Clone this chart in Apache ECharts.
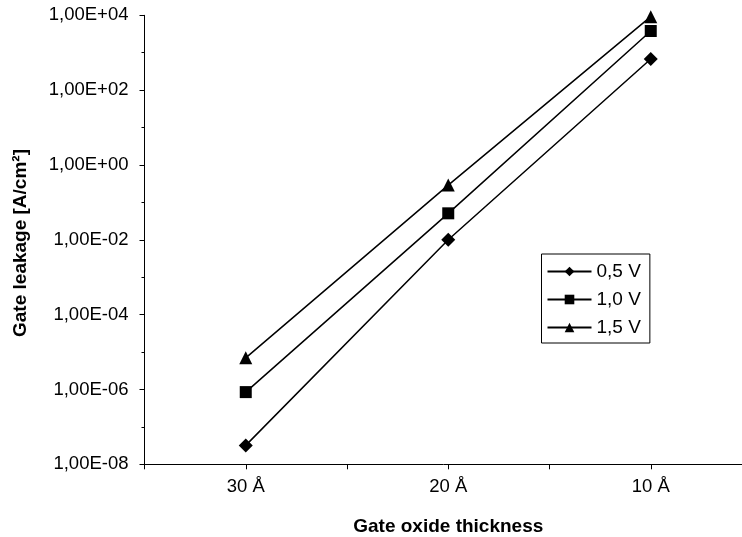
<!DOCTYPE html>
<html>
<head>
<meta charset="utf-8">
<script src="https://cdn.jsdelivr.net/npm/echarts@6/dist/echarts.min.js"></script>
<style>html,body{margin:0;padding:0;background:#fff}#c{width:742px;height:537px}</style>
</head>
<body>
<div id="c"></div>
<script>
var categories = ['30 Å', '20 Å', '10 Å'];
var seriesNames = ['0,5 V', '1,0 V', '1,5 V'];
var v05 = [3.2e-8, 1.0e-2, 680];
var v10 = [8.5e-7, 5.1e-2, 3800];
var v15 = [7.0e-6, 0.29, 9200];
var yTickLabels = {'-8':'1,00E-08','-6':'1,00E-06','-4':'1,00E-04','-2':'1,00E-02','0':'1,00E+00','2':'1,00E+02','4':'1,00E+04'};
var xTitle = 'Gate oxide thickness';
var yTitle = 'Gate leakage [A/cm²]';

var font = 'Liberation Sans, Arial, sans-serif';
var chart = echarts.init(document.getElementById('c'));

function build(useLog) {
  function tr(arr) { return useLog ? arr : arr.map(function (v) { return Math.log10(v); }); }
  function mk(name, data, sym) {
    return {
      name: name, type: 'line', data: tr(data), xAxisIndex: 0, yAxisIndex: 0,
      symbol: sym, symbolSize: sym === 'triangle' ? 13 : (sym === 'diamond' ? 14 : 12),
      lineStyle: {color: '#000', width: 1.5},
      itemStyle: {color: '#000'},
      animation: false
    };
  }
  function lbl(v) { var e = useLog ? Math.round(Math.log10(v)) : Math.round(v); return yTickLabels[String(e)] || ''; }
  var y0, y1;
  if (useLog) {
    y0 = {type: 'log', logBase: 10, min: 1e-8, max: 1e4, interval: 2};
    y1 = {type: 'log', logBase: 10, min: 1e-8, max: 1e4, interval: 1};
  } else {
    y0 = {type: 'value', min: -8, max: 4, interval: 2};
    y1 = {type: 'value', min: -8, max: 4, interval: 1};
  }
  Object.assign(y0, {
    axisLine: {show: true, lineStyle: {color: '#000', width: 1}},
    axisTick: {show: true, length: 5, lineStyle: {color: '#000'}},
    axisLabel: {color: '#000', fontSize: 18.5, fontFamily: font, margin: 16, formatter: lbl},
    splitLine: {show: false}
  });
  Object.assign(y1, {
    position: 'left',
    axisLine: {show: false},
    axisTick: {show: true, length: 3, lineStyle: {color: '#000'}},
    axisLabel: {show: false},
    splitLine: {show: false}
  });
  return {
    animation: false,
    grid: {left: 144.5, right: -10, top: 15.3, bottom: 72.7, outerBoundsMode: 'none', containLabel: false},
    xAxis: [{
      type: 'category', data: categories, position: 'bottom', boundaryGap: true,
      axisLine: {lineStyle: {color: '#000', width: 1}},
      axisTick: {show: true, length: 5, lineStyle: {color: '#000'}},
      axisLabel: {color: '#000', fontSize: 18.5, fontFamily: font, margin: 13},
      name: xTitle, nameLocation: 'middle', nameGap: 53,
      nameTextStyle: {color: '#000', fontSize: 19, fontWeight: 'bold', fontFamily: font},
      splitLine: {show: false}
    }, {
      type: 'category', data: categories, position: 'bottom', boundaryGap: true, gridIndex: 0,
      axisLine: {show: false},
      axisTick: {show: true, alignWithLabel: true, length: 5, lineStyle: {color: '#000'}},
      axisLabel: {show: false},
      splitLine: {show: false}
    }],
    yAxis: [y0, y1],
    legend: {
      orient: 'vertical', left: 541.5, top: 254, padding: [8, 9, 6, 5], itemGap: 9,
      borderColor: '#000', borderWidth: 1, backgroundColor: '#fff',
      itemWidth: 44, itemHeight: 12,
      textStyle: {color: '#000', fontSize: 19, fontFamily: font},
      data: seriesNames
    },
    graphic: [{
      type: 'text', x: 21, y: 243, rotation: Math.PI / 2,
      style: {text: yTitle, fill: '#000', font: 'bold 19px ' + font, textAlign: 'center', textVerticalAlign: 'middle'}
    }],
    series: [mk(seriesNames[0], v05, 'diamond'), mk(seriesNames[1], v10, 'rect'), mk(seriesNames[2], v15, 'triangle')]
  };
}

function tickCount(idx) {
  try { return chart.getModel().getComponent('yAxis', idx).axis.scale.getTicks().length; } catch (e) { return -1; }
}
chart.setOption(build(true));
if (tickCount(0) !== 7 || tickCount(1) !== 13) {
  chart.clear();
  chart.setOption(build(false), true);
}
</script>
</body>
</html>
